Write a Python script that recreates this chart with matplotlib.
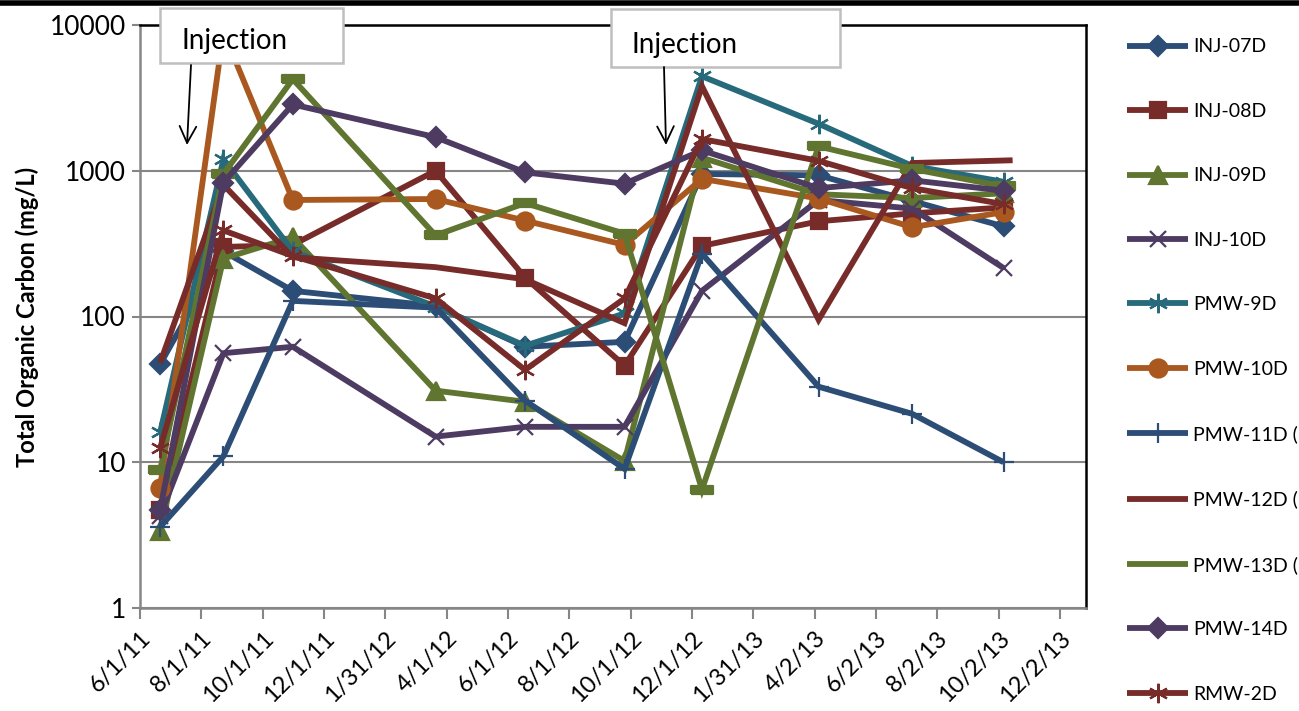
import datetime as dt
import numpy as np
import matplotlib
matplotlib.use("Agg")
import matplotlib.pyplot as plt
from matplotlib.patches import Rectangle, FancyArrowPatch
from matplotlib.lines import Line2D

plt.rcParams['font.family'] = ['Lato', 'DejaVu Sans']

# sample dates
dates = ['2011-06-21', '2011-08-23', '2011-10-31', '2012-03-21', '2012-06-18',
         '2012-09-25', '2012-12-11', '2013-04-06', '2013-07-08', '2013-10-07']
dates_12d = dates[:-1] + ['2013-10-16']

# total organic carbon (mg/L)
inj_07d = [47, 280, 150, 118, 62, 67, 950, 930, 620, 415]
inj_08d = [4.7, 300, 310, 1000, 185, 46, 305, 450, 510, 560]
inj_09d = [3.4, 250, 350, 31, 26, 10.2, 1230, 690, 650, 700]
inj_10d = [4.3, 56, 62, 15, 17.5, 17.5, 150, 630, 550, 215]
pmw_9d = [16, 1200, 280, 117, 63, 105, 4450, 2100, 1080, 840]
pmw_10d = [6.7, 9000, 630, 640, 455, 310, 880, 645, 410, 520]
pmw_11d = [3.6, 11, 128, 115, 26.5, 9, 270, 33, 21.5, 10]
pmw_12d = [48, 800, 255, 218, 180, 90, 3800, 95, 1130, 1180]
pmw_13d = [8.8, 950, 4250, 360, 600, 370, 6.5, 1470, 1030, 780]
pmw_14d = [4.7, 830, 2850, 1700, 975, 815, 1380, 760, 860, 730]
rmw_2d = [12.5, 390, 260, 133, 43, 133, 1650, 1170, 760, 590]

blue = '#2C4D75'
red = '#772C2A'
green = '#5F7530'
purple = '#4D3B62'
teal = '#276A7C'
orange = '#A9591F'

dash = [(-1, -0.32), (1, -0.32), (1, 0.32), (-1, 0.32), (-1, -0.32)]
star = (6, 2, 0)

series = [
    ('INJ-07D', dates, inj_07d, blue, 'D', 10),
    ('INJ-08D', dates, inj_08d, red, 's', 12),
    ('INJ-09D', dates, inj_09d, green, '^', 13),
    ('INJ-10D', dates, inj_10d, purple, 'x', 12),
    ('PMW-9D', dates, pmw_9d, teal, star, 14),
    ('PMW-10D', dates, pmw_10d, orange, 'o', 13),
    ('PMW-11D (', dates, pmw_11d, blue, '+', 14),
    ('PMW-12D (', dates_12d, pmw_12d, red, None, 0),
    ('PMW-13D (', dates, pmw_13d, green, dash, 16),
    ('PMW-14D', dates, pmw_14d, purple, 'D', 10),
    ('RMW-2D', dates, rmw_2d, red, star, 14),
]

fig = plt.figure(figsize=(12.99, 7.11), dpi=100)
ax = fig.add_axes([140 / 1299, 1 - 608 / 711, 946 / 1299, 583 / 711])

for name, d, v, c, m, ms in series:
    x = [dt.datetime.strptime(s, '%Y-%m-%d') for s in d]
    ax.plot(x, v, color=c, lw=4.2, marker=m, ms=ms, mfc=c, mec=c,
            mew=1.6, label=name, solid_capstyle='butt', solid_joinstyle='miter')

ax.set_yscale('log')
ax.set_ylim(1, 10000)
ax.set_yticks([1, 10, 100, 1000, 10000])
ax.set_yticklabels(['1', '10', '100', '1000', '10000'], fontsize=19)
ax.yaxis.set_minor_locator(matplotlib.ticker.NullLocator())
ax.grid(axis='y', color='#868686', lw=1.5)
ax.set_axisbelow(True)

start = dt.datetime(2011, 6, 1)
ticks = [start + dt.timedelta(days=61 * k) for k in range(16)]
ax.set_xlim(start, dt.datetime(2013, 12, 28))
ax.set_xticks(ticks)
ax.set_xticklabels([f'{t.month}/{t.day}/{t.year % 100}' for t in ticks],
                   rotation=45, ha='right', rotation_mode='anchor', fontsize=17)
ax.tick_params(axis='x', length=8, width=1.5, color='#868686', pad=6)
ax.tick_params(axis='y', length=6, width=1.5, color='#868686', pad=4)

for s in ['left', 'bottom']:
    ax.spines[s].set_color('#868686')
    ax.spines[s].set_linewidth(1.8)
for s in ['top', 'right']:
    ax.spines[s].set_color('black')
    ax.spines[s].set_linewidth(1.8)

ax.set_ylabel('Total Organic Carbon (mg/L)', fontsize=17, fontweight='bold')
ax.yaxis.set_label_coords(-0.107, 0.5)

# injection call-outs
for (x0, y0, w, h, tx, ty, a0, a1) in [
        (160, 8, 183, 55, 181, 41, (191, 65), (187, 145)),
        (611, 9, 229, 58, 632, 45, (664, 67), (666, 145))]:
    fig.add_artist(Rectangle((x0 / 1299, 1 - (y0 + h) / 711), w / 1299, h / 711,
                             transform=fig.transFigure, facecolor='white',
                             edgecolor='#BFBFBF', lw=1.8, zorder=5))
    fig.text(tx / 1299, 1 - ty / 711, 'Injection', fontsize=20, va='center',
             ha='left', zorder=6)
    fig.add_artist(FancyArrowPatch(
        (a0[0] / 1299, 1 - a0[1] / 711), (a1[0] / 1299, 1 - a1[1] / 711),
        transform=fig.transFigure, arrowstyle='->,head_length=12,head_width=6',
        color='black', lw=1.3, zorder=6, shrinkA=0, shrinkB=0))

# thick border line at top of picture
fig.add_artist(Line2D([0, 1], [1 - 2.5 / 711, 1 - 2.5 / 711], color='black',
                      lw=4, transform=fig.transFigure))

leg = fig.legend(loc='upper left', bbox_to_anchor=(1127 / 1299, 1 - 38.5 / 711),
                 frameon=False, fontsize=14, handlelength=3.14, handletextpad=0.26,
                 labelspacing=2.44, borderaxespad=0, borderpad=0)
leg.get_lines()[8].set_marker('None')

fig.savefig('out.png', dpi=100)
